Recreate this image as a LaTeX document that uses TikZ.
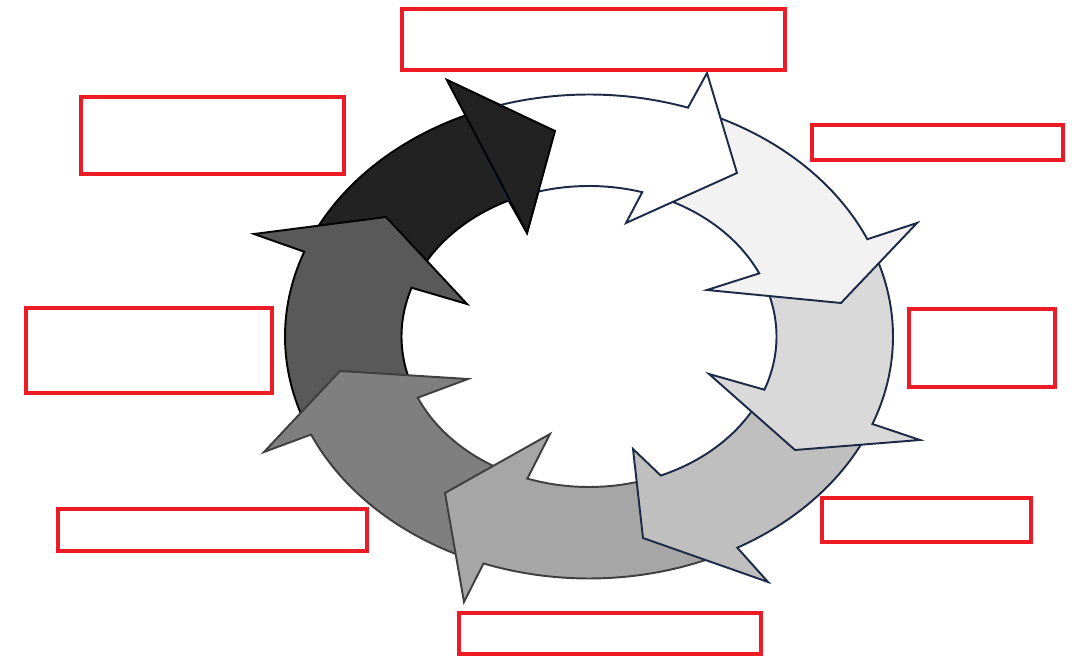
\documentclass[tikz,border=0pt]{standalone}
\usepackage{tikz}
\usepackage{xcolor}
\definecolor{boxred}{HTML}{ED1C24}
\definecolor{rimnavy}{HTML}{1C2A48}
\definecolor{rimgray}{HTML}{3F3F3F}
\definecolor{shadeA}{HTML}{FFFFFF}
\definecolor{shadeB}{HTML}{F2F2F2}
\definecolor{shadeC}{HTML}{D9D9D9}
\definecolor{shadeD}{HTML}{BFBFBF}
\definecolor{shadeE}{HTML}{A6A6A6}
\definecolor{shadeF}{HTML}{7F7F7F}
\definecolor{shadeG}{HTML}{595959}
\definecolor{shadeH}{HTML}{222222}
\tikzset{
  ringarrow/.style={line width=1.1pt},
  outer rim/.style 2 args={insert path={plot[domain=#1:#2,samples=45] ({589+304*cos(\x)},{336.5+242*sin(\x)})}},
  inner rim/.style 2 args={insert path={-- plot[domain=#1:#2,samples=45] ({589+187.5*cos(\x)},{336.5+150.5*sin(\x)})}},
  labelbox/.style={draw=boxred,line width=2.6pt,inner sep=0pt}
}
\begin{document}
\begin{tikzpicture}[x=0.02cm,y=-0.02cm]
        \useasboundingbox (0,0) rectangle (1072,661);
        \filldraw[ringarrow,fill=shadeH,draw=black] [outer rim={200.5}{246.1}] -- (447,80) -- (555,131) -- (527,233) [inner rim={244.6}{198.9}] -- cycle;
        \filldraw[ringarrow,fill=shadeG,draw=black] [outer rim={156.1}{200.5}] -- (254,234) -- (386,217) -- (467,304) [inner rim={198.9}{156.0}] -- cycle;
        \filldraw[ringarrow,fill=shadeF,draw=rimgray] [outer rim={110.3}{156.1}] -- (264,452) -- (340,371) -- (468,379) [inner rim={156.0}{109.2}] -- cycle;
        \filldraw[ringarrow,fill=shadeE,draw=rimgray] [outer rim={60.8}{110.3}] -- (464,602) -- (445,493) -- (550,434) [inner rim={109.2}{67.5}] -- cycle;
        \filldraw[ringarrow,fill=shadeD,draw=rimnavy] [outer rim={21.2}{60.8}] -- (768,582) -- (643,538) -- (633,449) [inner rim={67.5}{20.7}] -- cycle;
        \filldraw[ringarrow,fill=shadeC,draw=rimnavy] [outer rim={-23.7}{21.2}] -- (920,440) -- (795,450) -- (709,374) [inner rim={20.7}{-24.8}] -- cycle;
        \filldraw[ringarrow,fill=shadeB,draw=rimnavy] [outer rim={-71.0}{-23.7}] -- (917,223) -- (841,303) -- (707,290) [inner rim={-24.8}{-73.5}] -- cycle;
        \filldraw[ringarrow,fill=shadeA,draw=rimnavy] [outer rim={-113.9}{-71.0}] -- (707,73) -- (737,173) -- (626,223) [inner rim={-73.5}{-115.4}] -- cycle;
        % head of the dark arrow lies over the tail of the white one
        \filldraw[ringarrow,fill=shadeH,draw=black] (447,80) -- (555,131) -- (527,233) -- cycle;
        \foreach \n/\cx/\cy/\w/\h in {1/593.5/39.5/383/61,2/937.5/142.5/251/35,3/982/348/146/78,4/926.5/520/209/44,
          5/610/633.5/302/41,6/212.5/530/309/42,7/149/350.5/246/85,8/212.5/135.5/263/77}
          \node[labelbox,minimum width=\w*0.02cm,minimum height=\h*0.02cm] (box\n) at (\cx,\cy) {};
      \end{tikzpicture}
\end{document}
